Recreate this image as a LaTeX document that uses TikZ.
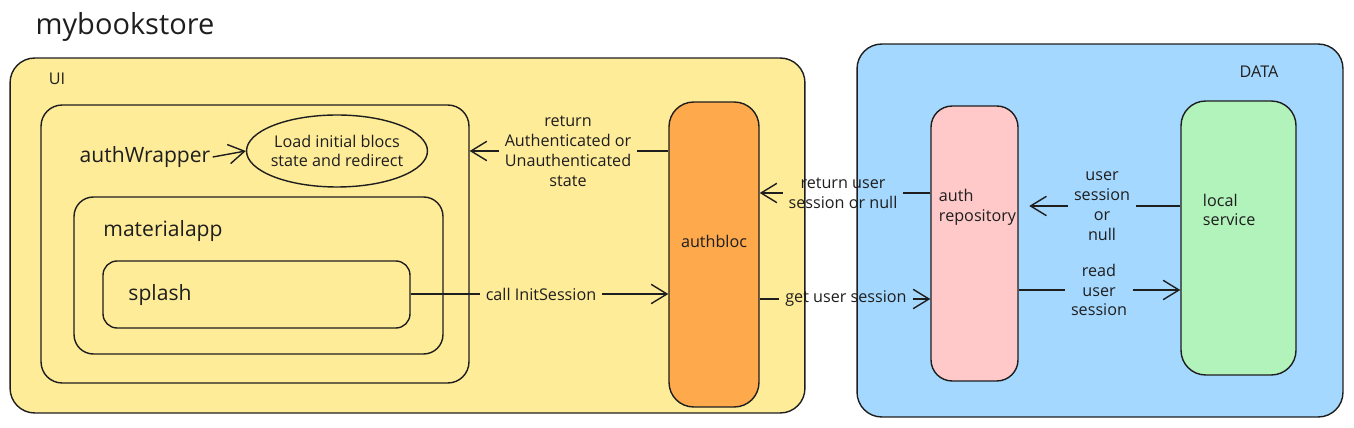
\documentclass[tikz,border=0pt]{standalone}
\usepackage{fontspec}
\setmainfont{Open Sans}
\usetikzlibrary{arrows.meta,calc,shapes.geometric}

\definecolor{ink}{HTML}{1E1E1E}
\definecolor{uiyellow}{HTML}{FFEC99}
\definecolor{datablue}{HTML}{A5D8FF}
\definecolor{blocorange}{HTML}{FFA94D}
\definecolor{repopink}{HTML}{FFC9C9}
\definecolor{localgreen}{HTML}{B2F2BB}

\begin{document}
\begin{tikzpicture}[x=0.02cm, y=-0.02cm, line width=0.8pt, color=ink,
  box/.style={draw=ink, inner sep=0pt, rounded corners=#1},
  box/.default=12pt,
  lbl/.style={font=\fontsize{9.2}{11.3}\selectfont, align=center, inner sep=3pt},
  head/.style={font=\fontsize{12}{14}\selectfont, inner sep=1pt},
  arr/.style={-{Straight Barb[length=9pt,width=11pt]}}]
  \useasboundingbox (0,0) rectangle (1354,428);
  \node[font=\fontsize{16.5}{18}\selectfont] (title) at (125,27) {mybookstore};

  % UI side: nested widgets
  \node[box=14pt, fill=uiyellow, minimum width=15.9cm, minimum height=7.1cm] (ui) at (407.5,235.5) {};
  \node[lbl] (uilbl) at (57,79) {UI};
  \node[box, minimum width=8.56cm, minimum height=5.56cm] (authwrap) at (255,244) {};
  \node[head] (wraplbl) at (145,157) {authWrapper};
  \node[ellipse, draw=ink, inner sep=0pt, minimum width=3.62cm, minimum height=1.44cm] (load) at (337,151) {};
  \node[lbl] (loadlbl) at (load) {Load initial blocs\\state and redirect};
  \node[box=11pt, minimum width=7.38cm, minimum height=3.14cm] (matapp) at (258.5,275.5) {};
  \node[head] (matlbl) at (163,231) {materialapp};
  \node[box=8pt, minimum width=6.14cm, minimum height=1.34cm] (splash) at (256.5,294.5) {};
  \node[head] (splashlbl) at (160,295) {splash};
  \node[box=14pt, fill=blocorange, minimum width=1.8cm, minimum height=6.1cm] (authbloc) at (714,254.5) {};
  \node[lbl] (bloclbl) at (714,241) {authbloc};

  % DATA side
  \node[box=14pt, fill=datablue, minimum width=9.72cm, minimum height=7.46cm] (data) at (1100,230.5) {};
  \node[lbl] (datalbl) at (1259,72) {DATA};
  \node[box, fill=repopink, minimum width=1.74cm, minimum height=5.5cm] (repo) at (974.5,243.5) {};
  \node[lbl, align=left, anchor=west] (repolbl) at (933,207) {auth\\repository};
  \node[box=14pt, fill=localgreen, minimum width=2.3cm, minimum height=5.48cm] (local) at (1238.5,238) {};
  \node[lbl, align=left, anchor=west] (locallbl) at (1197,210) {local\\service};

  % authWrapper -> redirect
  \draw[arr] (wraplbl.east) -- (load.west);

  % bloc state back to the wrapper
  \node[lbl] (ret) at (568,151) {return\\Authenticated or\\Unauthenticated\\state};
  \draw (authbloc.west |- ret) -- (ret.east);
  \draw[arr] (ret.west) -- (authwrap.east |- ret);

  % splash starts the session
  \node[lbl] (call) at (541,294) {call InitSession};
  \draw (splash.east |- call) -- (call.west);
  \draw[arr] (call.east) -- (authbloc.west |- call);

  % bloc <-> repository
  \node[lbl] (retusr) at (843,193) {return user\\session or null};
  \draw (repo.west |- retusr) -- (retusr.east);
  \draw[arr] (retusr.west) -- (authbloc.east |- retusr);
  \node[lbl] (get) at (846,299) {get user session};
  \draw (authbloc.east |- get) -- (get.west);
  \draw[arr] (get.east) -- (repo.west |- get);

  % repository <-> local service
  \node[lbl] (usr) at (1102,206) {user\\session\\or\\null};
  \draw (local.west |- usr) -- (usr.east);
  \draw[arr, shorten >=6pt] (usr.west) -- (repo.east |- usr);
  \node[lbl] (read) at (1099,290) {read\\user\\session};
  \draw (repo.east |- read) -- (read.west);
  \draw[arr] (read.east) -- (local.west |- read);
\end{tikzpicture}
\end{document}
